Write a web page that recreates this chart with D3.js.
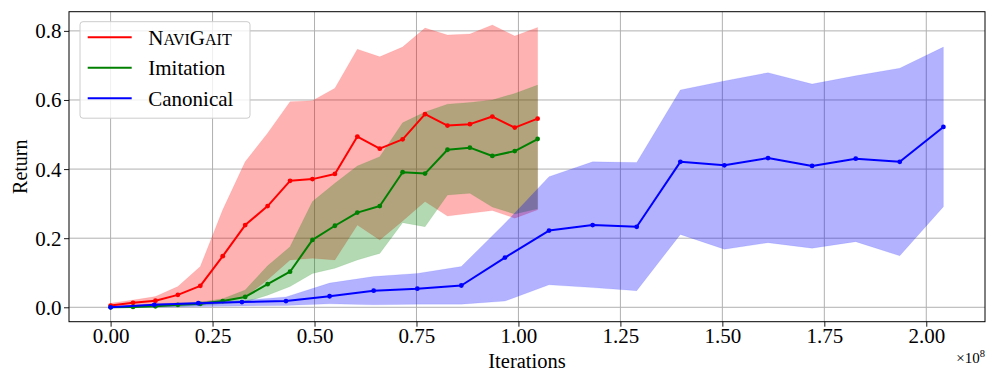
<!DOCTYPE html>
<html>
<head>
<meta charset="utf-8">
<script src="https://cdn.jsdelivr.net/npm/d3@7"></script>
<style>
  body { margin: 0; background: #fff; }
  svg text { font-family: "Liberation Serif", "DejaVu Serif", serif; fill: #000; }
</style>
</head>
<body>
<div id="chart"></div>
<script>
// iterations (x 1e8)
const iterShort = [0, 0.055, 0.110, 0.165, 0.220, 0.275, 0.330, 0.385, 0.440, 0.495,
  0.550, 0.605, 0.660, 0.716, 0.771, 0.826, 0.881, 0.936, 0.991, 1.047];
const iterLong = [0, 0.107, 0.215, 0.322, 0.430, 0.537, 0.645, 0.752, 0.860, 0.967,
  1.075, 1.182, 1.290, 1.397, 1.505, 1.612, 1.720, 1.827, 1.935, 2.042];

const naviMean = [0.005, 0.013, 0.019, 0.036, 0.062, 0.148, 0.238, 0.293, 0.366, 0.371,
  0.386, 0.494, 0.459, 0.486, 0.559, 0.526, 0.530, 0.552, 0.520, 0.546];
const naviHigh = [0.012, 0.021, 0.031, 0.060, 0.118, 0.282, 0.421, 0.504, 0.595, 0.598,
  0.634, 0.747, 0.725, 0.753, 0.808, 0.788, 0.791, 0.817, 0.785, 0.810];
const naviLow = [0.000, 0.005, 0.008, 0.012, 0.015, 0.015, 0.030, 0.080, 0.137, 0.142,
  0.137, 0.238, 0.195, 0.250, 0.306, 0.264, 0.272, 0.280, 0.258, 0.282];

const imitMean = [0.000, 0.001, 0.003, 0.007, 0.010, 0.018, 0.030, 0.067, 0.103, 0.195,
  0.236, 0.274, 0.293, 0.391, 0.387, 0.456, 0.462, 0.438, 0.452, 0.487];
const imitHigh = [0.000, 0.002, 0.005, 0.010, 0.015, 0.025, 0.050, 0.120, 0.175, 0.306,
  0.359, 0.409, 0.436, 0.534, 0.565, 0.588, 0.593, 0.600, 0.619, 0.643];
const imitLow = [0.000, 0.000, 0.001, 0.002, 0.005, 0.010, 0.015, 0.035, 0.060, 0.098,
  0.113, 0.137, 0.156, 0.245, 0.233, 0.325, 0.330, 0.290, 0.270, 0.285];

const canMean = [0.000, 0.007, 0.012, 0.015, 0.018, 0.032, 0.048, 0.054, 0.063, 0.144,
  0.222, 0.238, 0.233, 0.421, 0.411, 0.432, 0.409, 0.430, 0.421, 0.522];
const canHigh = [0.002, 0.010, 0.015, 0.020, 0.030, 0.070, 0.089, 0.098, 0.118, 0.243,
  0.378, 0.421, 0.419, 0.629, 0.655, 0.679, 0.646, 0.670, 0.692, 0.753];
const canLow = [0.000, 0.000, 0.002, 0.004, 0.005, 0.010, 0.007, 0.009, 0.009, 0.018,
  0.065, 0.057, 0.048, 0.211, 0.168, 0.187, 0.171, 0.190, 0.149, 0.291];

const xTicks = [0, 0.25, 0.5, 0.75, 1.0, 1.25, 1.5, 1.75, 2.0];
const yTicks = [0, 0.2, 0.4, 0.6, 0.8];

const series = [
  { name: "NaviGait", color: "#ff0000", x: iterShort, mean: naviMean, lo: naviLow, hi: naviHigh },
  { name: "Imitation", color: "#008000", x: iterShort, mean: imitMean, lo: imitLow, hi: imitHigh },
  { name: "Canonical", color: "#0000ff", x: iterLong, mean: canMean, lo: canLow, hi: canHigh }
];

const W = 997, H = 383;
const plot = { left: 69, right: 985, top: 11.7, bottom: 321.7 };

const svg = d3.select("#chart").append("svg")
  .attr("width", W)
  .attr("height", H);

const x = d3.scaleLinear().domain([-0.102, 2.144]).range([plot.left, plot.right]);
const y = d3.scaleLinear().domain([-0.0417, 0.8555]).range([plot.bottom, plot.top]);

// grid
svg.append("g").selectAll("line")
  .data(xTicks).enter().append("line")
  .attr("x1", d => x(d)).attr("x2", d => x(d))
  .attr("y1", plot.top).attr("y2", plot.bottom)
  .attr("stroke", "#b0b0b0").attr("stroke-width", 1);
svg.append("g").selectAll("line")
  .data(yTicks).enter().append("line")
  .attr("x1", plot.left).attr("x2", plot.right)
  .attr("y1", d => y(d)).attr("y2", d => y(d))
  .attr("stroke", "#b0b0b0").attr("stroke-width", 1);

// bands
const area = d3.area()
  .x(d => x(d.x))
  .y0(d => y(d.lo))
  .y1(d => y(d.hi));

series.forEach(s => {
  const pts = s.x.map((v, i) => ({ x: v, lo: s.lo[i], hi: s.hi[i] }));
  svg.append("path")
    .datum(pts)
    .attr("fill", s.color)
    .attr("fill-opacity", 0.3)
    .attr("stroke", s.color)
    .attr("stroke-opacity", 0.08)
    .attr("d", area);
});

// lines and markers
const line = d3.line().x(d => x(d.x)).y(d => y(d.y));
series.forEach(s => {
  const pts = s.x.map((v, i) => ({ x: v, y: s.mean[i] }));
  svg.append("path")
    .datum(pts)
    .attr("fill", "none")
    .attr("stroke", s.color)
    .attr("stroke-width", 2)
    .attr("stroke-linejoin", "round")
    .attr("d", line);
  svg.append("g").selectAll("circle")
    .data(pts).enter().append("circle")
    .attr("cx", d => x(d.x))
    .attr("cy", d => y(d.y))
    .attr("r", 2.4)
    .attr("fill", s.color);
});

// axes
const xAxis = svg.append("g")
  .attr("transform", "translate(0," + plot.bottom + ")")
  .call(d3.axisBottom(x).tickValues(xTicks).tickFormat(d3.format(".2f")).tickSize(5).tickSizeOuter(0));
const yAxis = svg.append("g")
  .attr("transform", "translate(" + plot.left + ",0)")
  .call(d3.axisLeft(y).tickValues(yTicks).tickFormat(d3.format(".1f")).tickSize(5).tickSizeOuter(0));

[xAxis, yAxis].forEach(a => {
  a.select(".domain").remove();
  a.selectAll("line").attr("stroke", "#000").attr("stroke-width", 0.9);
  a.selectAll("text").style("font-size", "21px").style("font-family", "Liberation Serif, serif");
});
xAxis.selectAll("text").attr("dy", null).attr("y", 21.8);
yAxis.selectAll("text").attr("x", -7.5).attr("dy", "0.33em");

// frame
svg.append("rect")
  .attr("x", plot.left).attr("y", plot.top)
  .attr("width", plot.right - plot.left)
  .attr("height", plot.bottom - plot.top)
  .attr("fill", "none")
  .attr("stroke", "#000")
  .attr("stroke-width", 1);

// labels
svg.append("text")
  .attr("x", (plot.left + plot.right) / 2)
  .attr("y", 368)
  .attr("text-anchor", "middle")
  .style("font-size", "20.5px")
  .text("Iterations");

svg.append("text")
  .attr("transform", "translate(27," + ((plot.top + plot.bottom) / 2) + ") rotate(-90)")
  .attr("text-anchor", "middle")
  .style("font-size", "20px")
  .text("Return");

const mult = svg.append("text")
  .attr("x", plot.right)
  .attr("y", 363)
  .attr("text-anchor", "end")
  .style("font-size", "15px");
mult.append("tspan").text("\u00d710");
mult.append("tspan").attr("dy", -6).style("font-size", "10.5px").text("8");

// legend
const legend = svg.append("g").attr("transform", "translate(80,21.7)");
legend.append("rect")
  .attr("width", 170)
  .attr("height", 96.5)
  .attr("rx", 3)
  .attr("fill", "#fff")
  .attr("fill-opacity", 0.8)
  .attr("stroke", "#cccccc")
  .attr("stroke-width", 1);

const rows = legend.selectAll(".row")
  .data(series).enter().append("g")
  .attr("transform", (d, i) => "translate(0," + (15.6 + i * 30.5) + ")");
rows.append("line")
  .attr("x1", 7.7).attr("x2", 51.7)
  .attr("stroke", d => d.color)
  .attr("stroke-width", 2);
rows.each(function (d) {
  const t = d3.select(this).append("text")
    .attr("x", 68.3)
    .attr("dy", "0.35em")
    .style("font-size", "21px");
  if (d.name === "NaviGait") {
    t.append("tspan").text("N");
    t.append("tspan").style("font-size", "16px").text("AVI");
    t.append("tspan").text("G");
    t.append("tspan").style("font-size", "16px").text("AIT");
  } else {
    t.text(d.name);
  }
});
</script>
</body>
</html>
